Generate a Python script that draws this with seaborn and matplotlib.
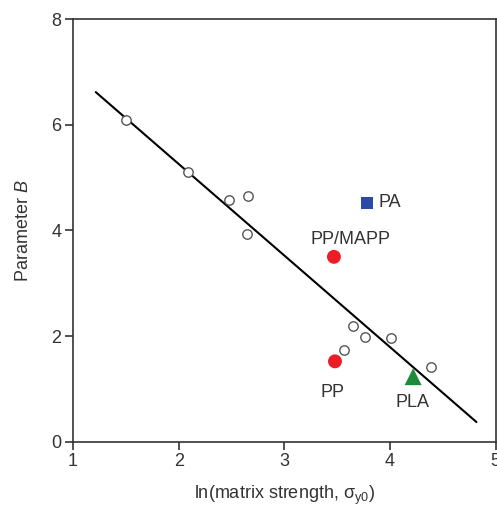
import matplotlib
matplotlib.use("Agg")
import matplotlib.pyplot as plt
import seaborn as sns

sns.set_style("ticks")
plt.rcParams["font.family"] = ["Liberation Sans", "DejaVu Sans"]
plt.rcParams["mathtext.fontset"] = "custom"
plt.rcParams["mathtext.rm"] = "Liberation Sans"
plt.rcParams["mathtext.it"] = "Liberation Sans:italic"

# Reference composites (open circles)
ref_x = [1.50, 2.09, 2.48, 2.66, 2.65, 3.65, 3.76, 4.01, 3.57, 4.39]
ref_b = [6.09, 5.10, 4.57, 4.66, 3.93, 2.19, 1.99, 1.97, 1.73, 1.41]

# Fitted trend line end points
fit_x = [1.215, 4.82]
fit_b = [6.62, 0.37]

# Labelled matrices
mat_names = ["PA", "PP/MAPP", "PP", "PLA"]
mat_x = [3.78, 3.47, 3.48, 4.22]
mat_b = [4.52, 3.50, 1.52, 1.23]

ink = "#333333"
fig = plt.figure(figsize=(4.97, 5.07), dpi=100)
ax = fig.add_axes([0.147, 0.129, 0.850, 0.833])

sns.lineplot(x=fit_x, y=fit_b, ax=ax, color="black", linewidth=1.5)
sns.scatterplot(x=ref_x, y=ref_b, ax=ax, marker="o", s=46,
                facecolor="white", edgecolor="#555555", linewidth=1.0, zorder=3)

styles = {
    "PA": dict(marker="s", s=72, color="#2b4aa8"),
    "PP/MAPP": dict(marker="o", s=100, color="#ee1c25"),
    "PP": dict(marker="o", s=100, color="#ee1c25"),
    "PLA": dict(marker="^", s=150, color="#1e8b3c"),
}
for name, x, y in zip(mat_names, mat_x, mat_b):
    st = styles[name]
    sns.scatterplot(x=[x], y=[y], ax=ax, marker=st["marker"], s=st["s"],
                    color=st["color"], edgecolor="none", zorder=4)

label_pos = {
    "PA": (3.89, 4.52, "left"),
    "PP/MAPP": (3.63, 3.82, "center"),
    "PP": (3.46, 0.93, "center"),
    "PLA": (4.21, 0.75, "center"),
}
for name in mat_names:
    lx, ly, ha = label_pos[name]
    ax.text(lx, ly, name, ha=ha, va="center", fontsize=13, color=ink)

ax.set_xlim(1, 5)
ax.set_ylim(0, 8)
ax.set_xticks([1, 2, 3, 4, 5])
ax.set_yticks([0, 2, 4, 6, 8])
ax.tick_params(direction="out", length=6, width=1.2, colors=ink,
               labelsize=13, labelcolor=ink, pad=2.5)
for sp in ax.spines.values():
    sp.set_linewidth(1.2)
    sp.set_color(ink)
    sp.set_visible(True)

ax.set_xlabel(r"ln(matrix strength, σ$_{\rm y0}$)", fontsize=13, color=ink, labelpad=10)
ax.set_ylabel(r"Parameter $\it{B}$", fontsize=13, color=ink, labelpad=14)

fig.savefig("out.png", dpi=100)
